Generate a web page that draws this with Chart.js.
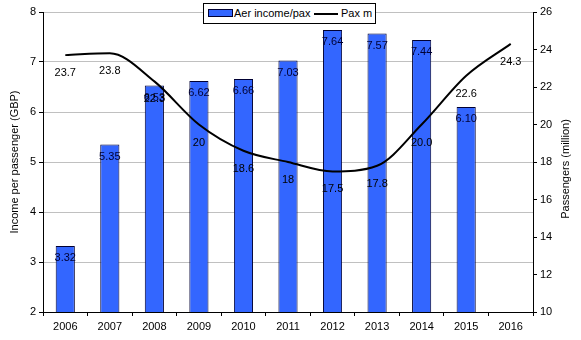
<!DOCTYPE html>
<html>
<head>
<meta charset="utf-8">
<script src="https://cdn.jsdelivr.net/npm/chart.js@4/dist/chart.umd.min.js"></script>
<style>
  body { margin: 0; background: #fff; }
  #wrap { position: relative; width: 581px; height: 340px; }
  #legend {
    position: absolute; left: 203px; top: 3px; width: 171px; height: 19px;
    border: 1px solid #000; background: #fff;
    font: 11px "Liberation Sans", Arial, sans-serif; color: #000;
  }
  #legend span { position: absolute; white-space: nowrap; }
</style>
</head>
<body>
<div id="wrap">
  <canvas id="chart" width="581" height="340"></canvas>
  <div id="legend">
    <span style="left:4px;top:5px;width:23px;height:6px;background:#3366ff;border:1px solid #000033;"></span>
    <span style="left:30px;top:3px;">Aer income/pax</span>
    <span style="left:110px;top:9px;width:24px;height:2px;background:#000;"></span>
    <span style="left:137px;top:3px;">Pax m</span>
  </div>
</div>
<script>
// chart data
const years = ['2006', '2007', '2008', '2009', '2010', '2011', '2012', '2013', '2014', '2015', '2016'];
const incomePerPax = [3.32, 5.35, 6.53, 6.62, 6.66, 7.03, 7.64, 7.57, 7.44, 6.10, null];
const paxMillions = [23.7, 23.8, 22.3, 20, 18.6, 18, 17.5, 17.8, 20.0, 22.6, 24.3];
const paxLabels = ['23.7', '23.8', '22.3', '20', '18.6', '18', '17.5', '17.8', '20.0', '22.6', '24.3'];

const FONT = '"Liberation Sans", Arial, sans-serif';

// draws value labels on bars and line, plus the right axis title
const labelPlugin = {
    id: 'valueLabels',
    afterDatasetsDraw(chart) {
        const ctx = chart.ctx;
        ctx.save();
        ctx.font = '11px ' + FONT;
        ctx.textAlign = 'center';
        ctx.textBaseline = 'middle';

        let barMeta = chart.getDatasetMeta(0);
        barMeta.data.forEach((el, i) => {
            if (incomePerPax[i] == null) return;
            ctx.fillStyle = '#000033';
            ctx.fillText(incomePerPax[i].toFixed(2), el.x, el.y + 12);
        });

        let lineMeta = chart.getDatasetMeta(1);
        lineMeta.data.forEach((el, i) => {
            ctx.fillStyle = '#000';
            ctx.fillText(paxLabels[i], el.x, el.y + 18);
        });

        // right axis title, reading bottom to top
        let area = chart.chartArea;
        ctx.translate(566, (area.top + area.bottom) / 2 + 7);
        ctx.rotate(-Math.PI / 2);
        ctx.fillStyle = '#000';
        ctx.fillText('Passengers (million)', 0, 0);
        ctx.restore();
    }
};

var ctx = document.getElementById('chart');
window.chart = new Chart(ctx, {
    type: 'bar',
    data: {
        labels: years,
        datasets: [
            {
                label: 'Aer income/pax',
                data: incomePerPax,
                backgroundColor: '#3366ff',
                borderColor: '#000033',
                borderWidth: 1,
                barPercentage: 0.43,
                categoryPercentage: 1,
                yAxisID: 'y',
                order: 1
            },
            {
                type: 'line',
                label: 'Pax m',
                data: paxMillions,
                borderColor: '#000',
                borderWidth: 2,
                pointRadius: 0,
                cubicInterpolationMode: 'monotone',
                fill: false,
                yAxisID: 'y1',
                order: 0
            }
        ]
    },
    options: {
        responsive: false,
        animation: false,
        layout: { padding: { top: 12, left: 0, right: 0, bottom: 0 } },
        plugins: {
            legend: { display: false },
            tooltip: { enabled: false }
        },
        scales: {
            x: {
                grid: {
                    offset: true,
                    drawOnChartArea: false,
                    drawTicks: true,
                    tickLength: 4,
                    tickColor: '#000'
                },
                border: { color: '#000', width: 1 },
                ticks: { color: '#000', font: { family: FONT, size: 11 }, padding: 4, maxRotation: 0 },
                afterFit(scale) { scale.height = 28; }
            },
            y: {
                position: 'left',
                min: 2,
                max: 8,
                ticks: { stepSize: 1, color: '#000', font: { family: FONT, size: 11 }, padding: 3 },
                grid: { color: '#c0c0c0', tickColor: '#000', tickLength: 4 },
                border: { color: '#000', width: 1 },
                title: {
                    display: true,
                    text: 'Income per passenger (GBP)',
                    color: '#000',
                    font: { family: FONT, size: 11 },
                    padding: { top: 8, bottom: 0 }
                },
                afterFit(scale) { scale.width = 43; }
            },
            y1: {
                position: 'right',
                min: 10,
                max: 26,
                ticks: { stepSize: 2, color: '#000', font: { family: FONT, size: 11 }, padding: 3 },
                grid: { drawOnChartArea: false, tickColor: '#000', tickLength: 4 },
                border: { color: '#000', width: 1 },
                afterFit(scale) { scale.width = 48; }
            }
        }
    },
    plugins: [labelPlugin]
});
</script>
</body>
</html>
